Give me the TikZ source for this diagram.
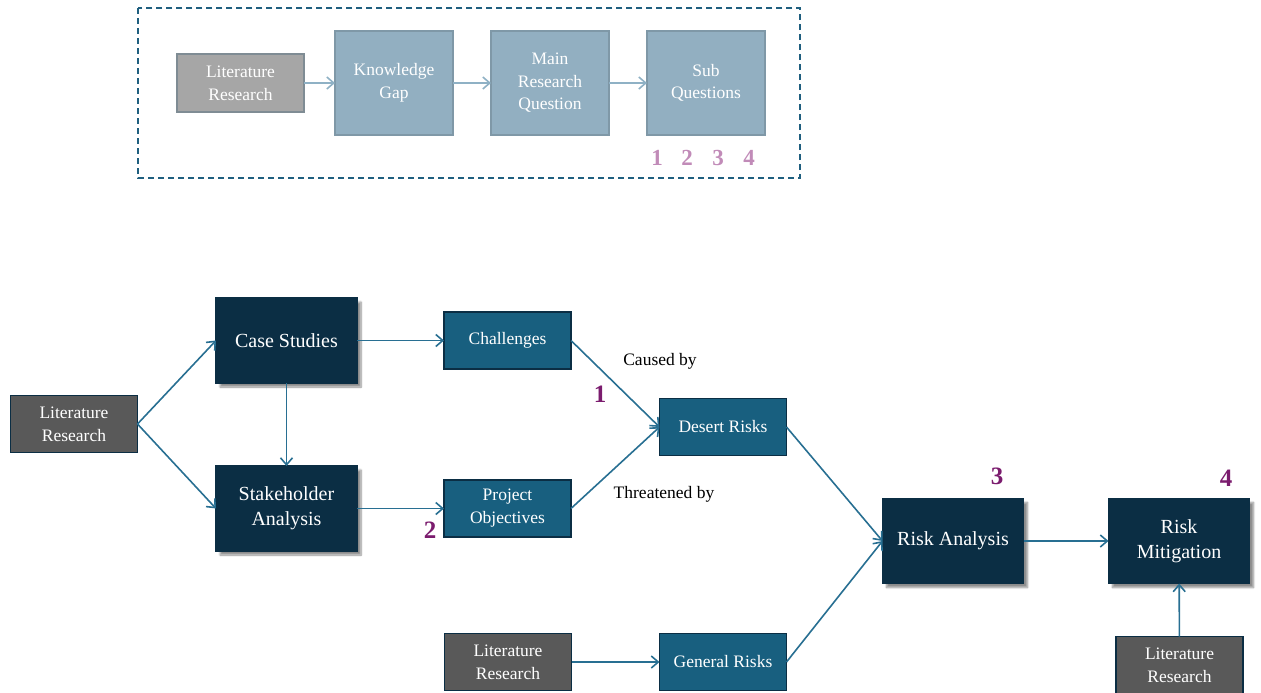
\documentclass[tikz,border=0pt]{standalone}
\usepackage{fontspec}
\setmainfont{Liberation Serif}
\usetikzlibrary{arrows.meta,shadows.blur}
\definecolor{navy}{HTML}{0B2E44}
\definecolor{teal}{HTML}{185F7F}
\definecolor{darkgray}{HTML}{595959}
\definecolor{lightgray}{HTML}{A6A6A6}
\definecolor{lightgrayedge}{HTML}{7F8C94}
\definecolor{paleblue}{HTML}{92AFC1}
\definecolor{paleedge}{HTML}{7F98A7}
\definecolor{linkblue}{HTML}{286F92}
\definecolor{palelink}{HTML}{8FB1C5}
\definecolor{numpurple}{HTML}{7B1C6E}
\definecolor{numpink}{HTML}{C18BB8}
\definecolor{frame}{HTML}{1F5F7F}
\tikzset{
  box/.style={draw, line width=1.2pt, inner sep=0pt, outer sep=0pt, align=center, text=white},
  bigbox/.style={box, fill=navy, draw=navy, minimum width=141pt, minimum height=85pt,
    font=\fontsize{20}{25}\selectfont,
    blur shadow={shadow xshift=4pt, shadow yshift=-4pt, shadow blur steps=8, shadow opacity=45}},
  midbox/.style={box, fill=teal, draw=navy, minimum width=127pt, minimum height=57pt,
    font=\fontsize{17.5}{23}\selectfont},
  litbox/.style={box, fill=darkgray, draw=navy, minimum width=127pt, minimum height=57pt,
    font=\fontsize{17.5}{23}\selectfont},
  topbox/.style={box, fill=paleblue, draw=paleedge, minimum width=118pt, minimum height=104pt,
    font=\fontsize{17.5}{22.5}\selectfont},
  toplit/.style={box, fill=lightgray, draw=lightgrayedge, minimum width=127pt, minimum height=58pt,
    font=\fontsize{17.5}{23}\selectfont},
  link/.style={draw=linkblue, line width=1.6pt, -{Straight Barb[length=7pt,width=12pt,line width=1.6pt]}},
  palelink/.style={draw=palelink, line width=1.6pt, -{Straight Barb[length=7pt,width=12pt,line width=1.6pt]}},
  lbl/.style={font=\fontsize{17.5}{18}\selectfont, text=black, inner sep=0pt},
  num/.style={font=\bfseries\fontsize{25}{25}\selectfont, text=numpurple, inner sep=0pt},
  topnum/.style={font=\bfseries\fontsize{23}{23}\selectfont, text=numpink, inner sep=0pt},
}
\begin{document}
\begin{tikzpicture}[x=1pt,y=-1pt]
\useasboundingbox (0,0) rectangle (1261,693);

% overview of the research framing
\draw[frame, line width=1.5pt, dash pattern=on 6pt off 4pt] (138,8) rectangle (800,178);
\node[toplit] (tlit) at (240.5,83) {Literature\\Research};
\node[topbox] (gap) at (394,83) {Knowledge\\Gap};
\node[topbox] (mrq) at (550,83) {Main\\Research\\Question};
\node[topbox] (subq) at (706,83) {Sub\\Questions};
\draw[palelink] (tlit) -- (gap);
\draw[palelink] (gap) -- (mrq);
\draw[palelink] (mrq) -- (subq);
\node[topnum] (q1) at (657,158) {1};
\node[topnum] (q2) at (687,158) {2};
\node[topnum] (q3) at (718,158) {3};
\node[topnum] (q4) at (749,158) {4};

% research process
\node[litbox] (lit1) at (74,424) {Literature\\Research};
\node[bigbox] (case) at (286.5,340.5) {Case Studies};
\node[bigbox] (stake) at (286.5,508.5) {Stakeholder\\Analysis};
\node[midbox] (chal) at (507.5,340.5) {Challenges};
\node[midbox] (proj) at (507.5,508.5) {Project\\Objectives};
\node[midbox] (desert) at (723,427) {Desert Risks};
\node[bigbox] (ra) at (953,541) {Risk Analysis};
\node[bigbox] (rm) at (1179,541) {Risk\\Mitigation};
\node[litbox] (lit2) at (508,662) {Literature\\Research};
\node[midbox] (general) at (723,662) {General Risks};
\node[litbox] (lit3) at (1179.5,665) {Literature\\Research};

\draw[link] (lit1.east) -- (case.west);
\draw[link] (lit1.east) -- (stake.west);
\draw[link] (case) -- (stake);
\draw[link] (case) -- (chal);
\draw[link] (stake) -- (proj);
\draw[link] (chal.east) -- (desert.west);
\draw[link] (proj.east) -- (desert.west);
\draw[link] (desert.east) -- (ra.west);
\draw[link] (general.east) -- (ra.west);
\draw[link] (lit2) -- (general);
\draw[link] (ra) -- (rm);
\draw[link] (lit3) -- (rm);

\node[lbl] (caused) at (660,361) {Caused by};
\node[lbl] (threat) at (664,494) {Threatened by};
\node[num] (n1) at (600,394) {1};
\node[num] (n2) at (430,530) {2};
\node[num] (n3) at (997,476) {3};
\node[num] (n4) at (1226,478) {4};
\end{tikzpicture}
\end{document}
